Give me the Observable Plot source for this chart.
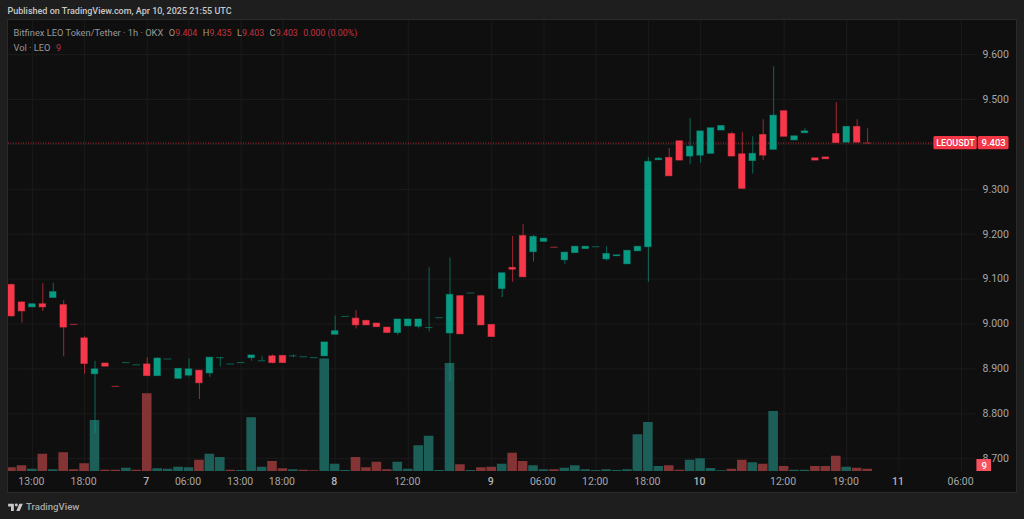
<!DOCTYPE html>
<html><head><meta charset="utf-8">
<script src="https://cdn.jsdelivr.net/npm/d3@7"></script>
<script src="https://cdn.jsdelivr.net/npm/@observablehq/plot@0.6"></script>
<style>
html,body{margin:0;padding:0;background:#1e1e1e;width:1024px;height:519px;overflow:hidden;font-family:Roboto,sans-serif}
#head{height:20px;line-height:22px;padding-left:7.5px;font-size:9px;font-weight:500;color:#c8c8c8;box-sizing:border-box}
#wrap{position:relative;margin-left:8px;width:1008px;height:472px;outline:1px solid #2a2a2a}
#wrap svg{display:block}
#legend{position:absolute;left:5.5px;top:6px;font-size:9.3px;line-height:13.5px;color:#979797;white-space:pre}
#legend b{font-weight:400;color:#c23240;font-size:8.8px}
#legend i{font-style:normal;display:inline-block;width:5.5px}
#foot{position:absolute;left:8px;top:501px;display:flex;align-items:center;gap:3px;color:#a8a8a8;font-size:9.6px;font-weight:500}
</style></head><body>
<div id="head">Published on TradingView.com, Apr 10, 2025 21:55 UTC</div>
<div id="wrap"><div id="legend"></div></div>
<div id="foot"><svg width="15" height="9" viewBox="0 0 36 22"><path fill="#c8c8c8" d="M14 22H7V11H0V4h14v18zM28 22h-8l7.5-18H36L28 22z"/><circle cx="20" cy="7.5" r="3.6" fill="#c8c8c8"/></svg><span>TradingView</span></div>
<script>
const open_ = [9.087,9.048,9.037,9.044,9.058,9.042,9.000,8.968,8.888,8.912,8.862,8.914,8.909,8.910,8.884,8.922,8.878,8.885,8.896,8.890,8.925,8.911,8.914,8.924,8.918,8.928,8.929,8.929,8.927,8.925,8.928,8.976,9.017,9.012,9.007,9.001,8.992,8.980,8.995,8.994,8.992,9.014,8.979,9.062,9.069,9.062,8.998,9.078,9.125,9.196,9.160,9.183,9.172,9.142,9.158,9.167,9.172,9.144,9.151,9.133,9.162,9.171,9.365,9.370,9.407,9.373,9.375,9.379,9.431,9.423,9.378,9.363,9.421,9.388,9.474,9.409,9.425,9.369,9.371,9.423,9.404,9.439,9.404];
const high = [9.089,9.050,9.044,9.090,9.091,9.052,9.000,8.972,8.917,8.912,8.862,8.914,8.909,8.925,8.925,8.922,8.900,8.922,8.896,8.925,8.925,8.911,8.914,8.930,8.928,8.931,8.929,8.931,8.927,8.925,8.959,9.018,9.017,9.030,9.007,9.001,8.992,9.010,9.010,9.010,9.125,9.014,9.147,9.062,9.069,9.064,8.998,9.113,9.195,9.222,9.197,9.190,9.172,9.159,9.172,9.172,9.172,9.172,9.153,9.163,9.172,9.371,9.371,9.391,9.407,9.458,9.429,9.436,9.441,9.427,9.427,9.417,9.455,9.573,9.474,9.418,9.435,9.369,9.371,9.493,9.439,9.455,9.435];
const low = [9.015,9.002,9.037,9.028,9.058,8.927,8.999,8.888,8.756,8.905,8.861,8.914,8.909,8.884,8.884,8.922,8.878,8.882,8.832,8.881,8.904,8.911,8.914,8.917,8.918,8.911,8.913,8.925,8.927,8.925,8.928,8.976,9.017,8.989,8.997,8.993,8.980,8.974,8.995,8.989,8.982,9.014,8.872,8.977,9.069,8.997,8.971,9.059,9.093,9.104,9.138,9.183,9.171,9.133,9.158,9.167,9.172,9.140,9.151,9.133,9.162,9.093,9.365,9.329,9.364,9.355,9.358,9.379,9.431,9.373,9.301,9.334,9.364,9.388,9.417,9.409,9.425,9.364,9.367,9.403,9.404,9.404,9.403];
const close_ = [9.017,9.028,9.044,9.037,9.071,8.992,8.999,8.911,8.899,8.905,8.861,8.914,8.909,8.884,8.923,8.922,8.900,8.899,8.868,8.925,8.925,8.911,8.914,8.930,8.918,8.913,8.913,8.929,8.927,8.925,8.959,8.984,9.017,8.997,8.997,8.993,8.980,9.010,9.010,9.010,8.992,9.014,9.065,8.977,9.069,8.997,8.971,9.113,9.121,9.104,9.194,9.190,9.171,9.159,9.172,9.172,9.172,9.156,9.153,9.163,9.172,9.361,9.368,9.329,9.364,9.395,9.429,9.436,9.441,9.373,9.301,9.379,9.375,9.464,9.417,9.418,9.429,9.364,9.367,9.403,9.439,9.404,9.403];
const volume = [15,23,9,69,7,75,7,31,204,5,5,13,5,311,11,9,17,15,45,69,56,5,4,215,17,40,11,7,5,3,450,29,4,56,15,37,7,37,9,103,141,4,432,27,4,15,17,29,73,40,23,7,7,13,23,7,4,7,4,7,147,196,20,23,5,45,51,12,3,9,45,35,29,240,20,5,5,20,20,61,17,13,9];
const volumeUp = [0,0,1,0,1,0,0,0,1,0,0,1,0,0,1,1,1,1,0,1,1,0,1,1,1,0,0,1,0,0,1,1,1,0,0,0,0,1,1,1,1,1,1,0,1,0,0,1,0,0,1,1,0,1,1,1,1,1,1,1,1,1,1,0,0,1,1,1,1,0,0,1,0,1,0,1,1,0,0,0,1,0,0];
const timeTicks = [2,7,17,22,26,38,51,56,61,74,80,91];
const timeLabels = ["13:00","18:00","06:00","13:00","18:00","12:00","06:00","12:00","18:00","12:00","19:00","06:00"];
const dayTicks = [13,31,46,66,85];
const dayLabels = ["7","8","9","10","11"];
const priceGrid = [8.7,8.8,8.9,9.0,9.1,9.2,9.3,9.4,9.5,9.6];
const priceLabels = [8.7,8.8,8.9,9.0,9.1,9.2,9.3,9.5,9.6];
const lastPrice = [9.403];
const lastVolume = [9];

const UP="#089c84", DOWN="#f7384b";
const index = open_.map((_,i)=>i);
const isUp = i => close_[i] >= open_[i];
const isDoji = i => Math.abs(close_[i]-open_[i]) < 0.002;
const yMin = 8.6715, yMax = 9.676, volK = 0.000557;
const volTop = v => yMin + v*volK;

const plot = Plot.plot({
  width:1008, height:472, marginTop:0, marginBottom:21, marginLeft:0, marginRight:40,
  style:{background:"#0f0f0f",color:"#a6a6a6",fontFamily:"Roboto,sans-serif",fontSize:"10.5px"},
  x:{type:"linear",domain:[-0.287,92.43],axis:null},
  y:{domain:[yMin,yMax],axis:null},
  marks:[
    Plot.ruleX([...timeTicks,...dayTicks],{x:d=>d,stroke:"#1b1b1b",strokeWidth:1}),
    Plot.ruleY(priceGrid,{y:d=>d,stroke:"#1b1b1b",strokeWidth:1}),
    Plot.rect(index,{x1:i=>i-0.46,x2:i=>i+0.46,y1:()=>yMin,y2:i=>volTop(volume[i]),
      fill:i=>volumeUp[i]?"#1c5f58":"#843434"}),
    Plot.ruleY(lastPrice,{y:d=>d,stroke:"#b52c3a",strokeDasharray:"1 1.5",strokeWidth:1}),
    Plot.ruleX(index,{x:i=>i,y1:i=>low[i],y2:i=>high[i],strokeWidth:1,strokeOpacity:0.62,
      stroke:i=>isUp(i)?UP:DOWN}),
    Plot.rect(index.filter(i=>!isDoji(i)),{x1:i=>i-0.31,x2:i=>i+0.31,y1:i=>open_[i],y2:i=>close_[i],
      fill:i=>isUp(i)?UP:DOWN,stroke:i=>isUp(i)?UP:DOWN,strokeOpacity:0.5,strokeWidth:1}),
    Plot.ruleY(index.filter(isDoji),{x1:i=>i-0.36,x2:i=>i+0.36,y:i=>close_[i],strokeWidth:1,strokeOpacity:0.6,
      stroke:i=>isUp(i)?UP:DOWN}),
    Plot.axisY({anchor:"right",ticks:priceLabels,tickSize:0,tickPadding:6,tickFormat:d3.format(".3f"),fill:"#a6a6a6"}),
    Plot.axisX({anchor:"bottom",ticks:timeTicks,tickSize:0,tickPadding:6,dx:-1,
      tickFormat:d=>timeLabels[timeTicks.indexOf(d)],fill:"#a6a6a6"}),
    Plot.axisX({anchor:"bottom",ticks:dayTicks,tickSize:0,tickPadding:6,dx:-1,fontWeight:500,
      tickFormat:d=>dayLabels[dayTicks.indexOf(d)],fill:"#b4b4b4"}),
    Plot.rect(lastPrice,{x1:()=>88.35,x2:()=>92.5,y1:d=>d-0.0148,y2:d=>d+0.0148,fill:"#f23645",rx:1.5}),
    Plot.rect(lastPrice,{x1:()=>92.6,x2:()=>95.55,y1:d=>d-0.0148,y2:d=>d+0.0148,fill:"#f23645",rx:1.5}),
    Plot.text(lastPrice,{x:()=>90.42,y:d=>d,text:()=>"LEOUSDT",fill:"#fff",fontSize:9,fontWeight:500}),
    Plot.text(lastPrice,{x:()=>94.07,y:d=>d,text:d=>d.toFixed(3),fill:"#fff",fontSize:9.5,fontWeight:500}),
    Plot.rect(lastVolume,{x1:()=>92.47,x2:()=>93.87,y1:()=>yMin,y2:()=>yMin+0.0267,fill:"#f7525f"}),
    Plot.text(lastVolume,{x:()=>93.17,y:()=>yMin+0.0134,text:d=>String(d),fill:"#fff",fontSize:9.5,fontWeight:500})
  ]
});
document.getElementById("wrap").prepend(plot);
document.getElementById("legend").innerHTML =
  'Bitfinex LEO Token/Tether · 1h · OKX<i></i>O<b>9.404</b><i></i>H<b>9.435</b><i></i>L<b>9.403</b><i></i>C<b>9.403</b><i></i><b>0.000 (0.00%)</b>\nVol · LEO<i></i><b>9</b>';
</script>
</body></html>
